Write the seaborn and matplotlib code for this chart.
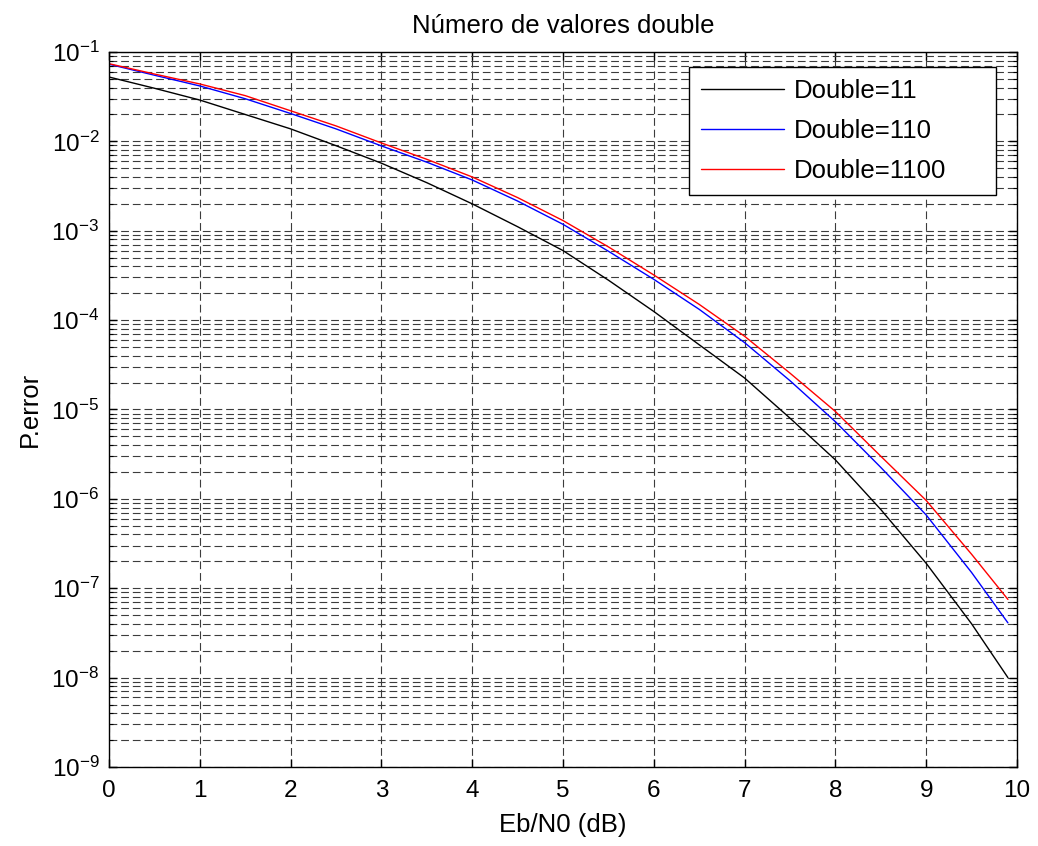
import numpy as np
import pandas as pd
import matplotlib
matplotlib.use("Agg")
import matplotlib.pyplot as plt
from matplotlib.ticker import LogLocator, NullFormatter, FixedLocator
import seaborn as sns

# ---- data ----
ebn0 = [0, 0.5, 1, 1.5, 2, 2.5, 3, 3.5, 4, 4.5, 5, 5.5, 6, 6.5, 7, 7.5, 8, 8.5, 9, 9.5, 9.9]
p_double_11 = [5.25e-2, 3.93e-2, 2.9e-2, 2.0e-2, 1.38e-2, 8.95e-3, 5.7e-3, 3.45e-3, 2.0e-3, 1.11e-3,
               6.0e-4, 2.8e-4, 1.25e-4, 5.3e-5, 2.25e-5, 8.0e-6, 2.73e-6, 7.6e-7, 1.9e-7, 4.0e-8, 1.0e-8]
p_double_110 = [7.3e-2, 5.5e-2, 4.17e-2, 3.0e-2, 2.05e-2, 1.38e-2, 8.9e-3, 5.85e-3, 3.7e-3, 2.15e-3,
                1.18e-3, 5.9e-4, 2.86e-4, 1.32e-4, 5.6e-5, 2.1e-5, 7.3e-6, 2.25e-6, 6.6e-7, 1.5e-7, 4.1e-8]
p_double_1100 = [7.4e-2, 5.67e-2, 4.39e-2, 3.25e-2, 2.2e-2, 1.49e-2, 9.6e-3, 6.3e-3, 4.0e-3, 2.35e-3,
                 1.3e-3, 6.6e-4, 3.2e-4, 1.5e-4, 6.6e-5, 2.55e-5, 9.5e-6, 3.0e-6, 9.6e-7, 2.4e-7, 7.5e-8]
series_names = ["Double=11", "Double=110", "Double=1100"]
colors = ["#000000", "#0000ff", "#ff0000"]
x_ticks = [0, 1, 2, 3, 4, 5, 6, 7, 8, 9, 10]

df = pd.concat([
    pd.DataFrame({"x": ebn0, "y": vals, "serie": name})
    for name, vals in zip(series_names, [p_double_11, p_double_110, p_double_1100])
], ignore_index=True)

sns.set_theme(style="white")
plt.rcParams["font.family"] = ["Liberation Sans", "DejaVu Sans"]
plt.rcParams["mathtext.fontset"] = "custom"
plt.rcParams["mathtext.rm"] = "Liberation Sans"
plt.rcParams["mathtext.it"] = "Liberation Sans:italic"
plt.rcParams["mathtext.bf"] = "Liberation Sans:bold"
plt.rcParams["text.color"] = "black"
plt.rcParams["axes.labelcolor"] = "black"
plt.rcParams["axes.titlecolor"] = "black"
plt.rcParams["xtick.color"] = "black"
plt.rcParams["ytick.color"] = "black"

FS_TICK = 17.5
FS = 18.5
W, H = 1038, 846
fig = plt.figure(figsize=(W / 100, H / 100), dpi=100)
ax = fig.add_axes([109 / W, 1 - 767 / H, (1017 - 109) / W, (767 - 52) / H])

sns.lineplot(data=df, x="x", y="y", hue="serie", palette=colors, ax=ax,
             linewidth=1.0, legend=True, estimator=None, sort=False)

ax.set_yscale("log")
ax.set_xlim(0, 10)
ax.set_ylim(1e-9, 1e-1)
ax.xaxis.set_major_locator(FixedLocator(x_ticks))
ax.yaxis.set_major_locator(LogLocator(base=10, numticks=20))
ax.yaxis.set_minor_locator(LogLocator(base=10, subs=np.arange(2, 10), numticks=20))
ax.yaxis.set_minor_formatter(NullFormatter())

grid_ls = (0, (7, 3.5))
ax.grid(True, which="major", axis="both", color="#3c3c3c", linestyle=grid_ls, linewidth=0.8)
ax.grid(True, which="minor", axis="y", color="#3c3c3c", linestyle=grid_ls, linewidth=0.8)
ax.set_axisbelow(True)

ax.tick_params(which="both", direction="in", top=True, right=True, bottom=True, left=True,
               labelsize=FS_TICK, colors="black", labelcolor="black")
ax.tick_params(which="major", length=6, width=1.0)
ax.tick_params(axis="x", which="major", pad=9)
ax.tick_params(axis="y", which="major", pad=7)
ax.tick_params(which="minor", length=3, width=0.8)
for s in ax.spines.values():
    s.set_visible(True)
    s.set_color("black")
    s.set_linewidth(1.0)

ax.set_xlabel("Eb/N0 (dB)", fontsize=FS, labelpad=8, color="black")
ax.set_ylabel("P.error", fontsize=FS, labelpad=7, color="black")
ax.set_title("Número de valores double", fontsize=FS, pad=14, color="black")

handles, labels = ax.get_legend_handles_labels()
x0, x1 = 689 / W, 996 / W
y1, y0 = 1 - 67 / H, 1 - 193 / H
leg = ax.legend(handles, labels, loc="upper left", fontsize=FS, frameon=True,
                bbox_to_anchor=(x0, y0, x1 - x0, y1 - y0), bbox_transform=fig.transFigure,
                mode="expand", borderaxespad=0, labelcolor="black",
                fancybox=False, edgecolor="black", framealpha=1.0, handlelength=3.25,
                labelspacing=0.63, borderpad=0.45, handletextpad=0.4)
leg.get_frame().set_linewidth(1.0)

fig.savefig("out.png", dpi=100)
